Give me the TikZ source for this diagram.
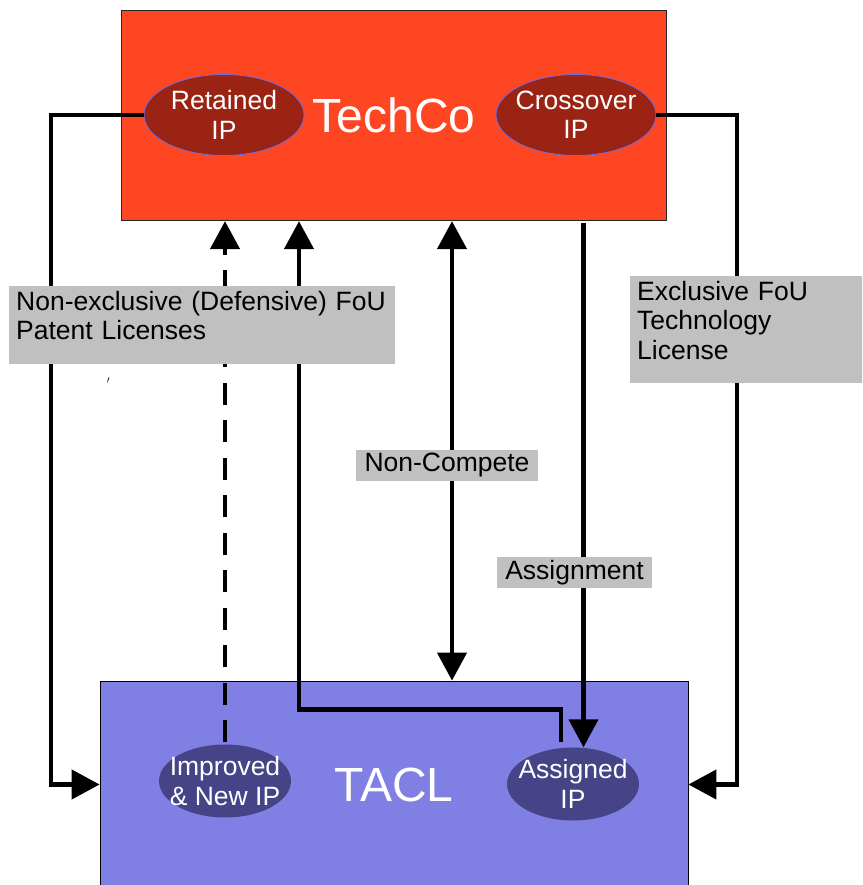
\documentclass[tikz,border=0pt]{standalone}
\usepackage{fontspec}
\setmainfont{Liberation Sans}
\usepackage{tikz}
\usetikzlibrary{arrows.meta,shapes.geometric}
\definecolor{techred}{RGB}{255,70,35}
\definecolor{ipred}{RGB}{155,35,20}
\definecolor{ipline}{RGB}{110,110,230}
\definecolor{taclblue}{RGB}{128,128,228}
\definecolor{ipblue}{RGB}{70,68,135}
\definecolor{lblgray}{RGB}{192,192,192}

\begin{document}
\begin{tikzpicture}[x=1pt,y=1pt,>={Triangle[length=28pt,width=29pt]},
  conn/.style={line width=4.4pt},
  company/.style={rectangle,draw=black!85,line width=0.8pt,inner sep=0pt,
    text=white,font=\fontsize{48}{52}\selectfont},
  ipoval/.style={ellipse,inner sep=0pt},
  iptext/.style={text=white,align=center,inner sep=0pt,
    font=\fontsize{26.5}{29.5}\selectfont},
  lbl/.style={fill=lblgray,font=\fontsize{26.5}{29.5}\selectfont},
  multi/.style={anchor=north west,align=left,inner xsep=7pt,inner ysep=5pt},
  short/.style={inner xsep=8.5pt,inner ysep=3.2pt}]
\useasboundingbox(0,0)rectangle(862,885);
\clip(0,0)rectangle(862,885);
% the two companies
\node[company,fill=techred,minimum width=545pt,minimum height=210pt] (techco) at (394,769.25) {TechCo};
\node[ipoval,fill=ipred,draw=ipline,line width=0.8pt,minimum width=160pt,minimum height=81pt,
  label={[iptext]center:Retained\\IP}] (retained) at (224,770) {};
\node[ipoval,fill=ipred,draw=ipline,line width=0.8pt,minimum width=160pt,minimum height=81pt,
  label={[iptext]center:Crossover\\IP}] (crossover) at (576,770) {};
\node[company,draw=black,fill=taclblue,minimum width=588pt,minimum height=208pt] (tacl) at (394,100) {TACL};
\node[ipoval,fill=ipblue,minimum width=132pt,minimum height=73pt,
  label={[iptext]center:Improved\\\& New IP}] (improved) at (225,104) {};
\node[ipoval,fill=ipblue,minimum width=132pt,minimum height=73pt,
  label={[iptext]center:Assigned\\IP}] (assigned) at (573,101) {};
% connectors
\coordinate (lrail) at (51,100.5);
\coordinate (rrail) at (737,100.5);
\coordinate (jog) at (299,175.5);
\coordinate (compete) at (452,665);
\coordinate (assignx) at (583.5,665);
\draw[conn,->] (retained.west) -| (lrail) -- (lrail -| tacl.west);
\draw[conn,->] (crossover.east) -| (rrail) -- (rrail -| tacl.east);
\draw[conn,->,dash pattern=on 22pt off 15.5pt,shorten <=2pt] (improved.north) -- (improved.north |- techco.south);
\draw[conn,->,shorten <=6pt] (assigned.108) |- (jog) -- (jog |- techco.south);
\draw[conn,<->] (compete |- techco.south) -- (compete |- tacl.north);
\draw[conn,->,shorten <=2pt] (assignx |- techco.south) -- (assignx |- assigned.north);
% labels
\node[lbl,multi,text width=372pt,text depth=49pt] (patlic) at (9,599) {Non-exclusive (Defensive) FoU\\Patent Licenses};
\node[lbl,multi,text width=240pt,text depth=78pt] (techlic) at (630,609) {Exclusive FoU\\Technology\\License};
\node[lbl,short] (noncomp) at (447,419.5) {Non-Compete};
\node[lbl,short] (assign) at (574.5,312.5) {Assignment};
\node[font=\Large] (tick) at (108.5,501.5) {$'$};
\end{tikzpicture}
\end{document}
